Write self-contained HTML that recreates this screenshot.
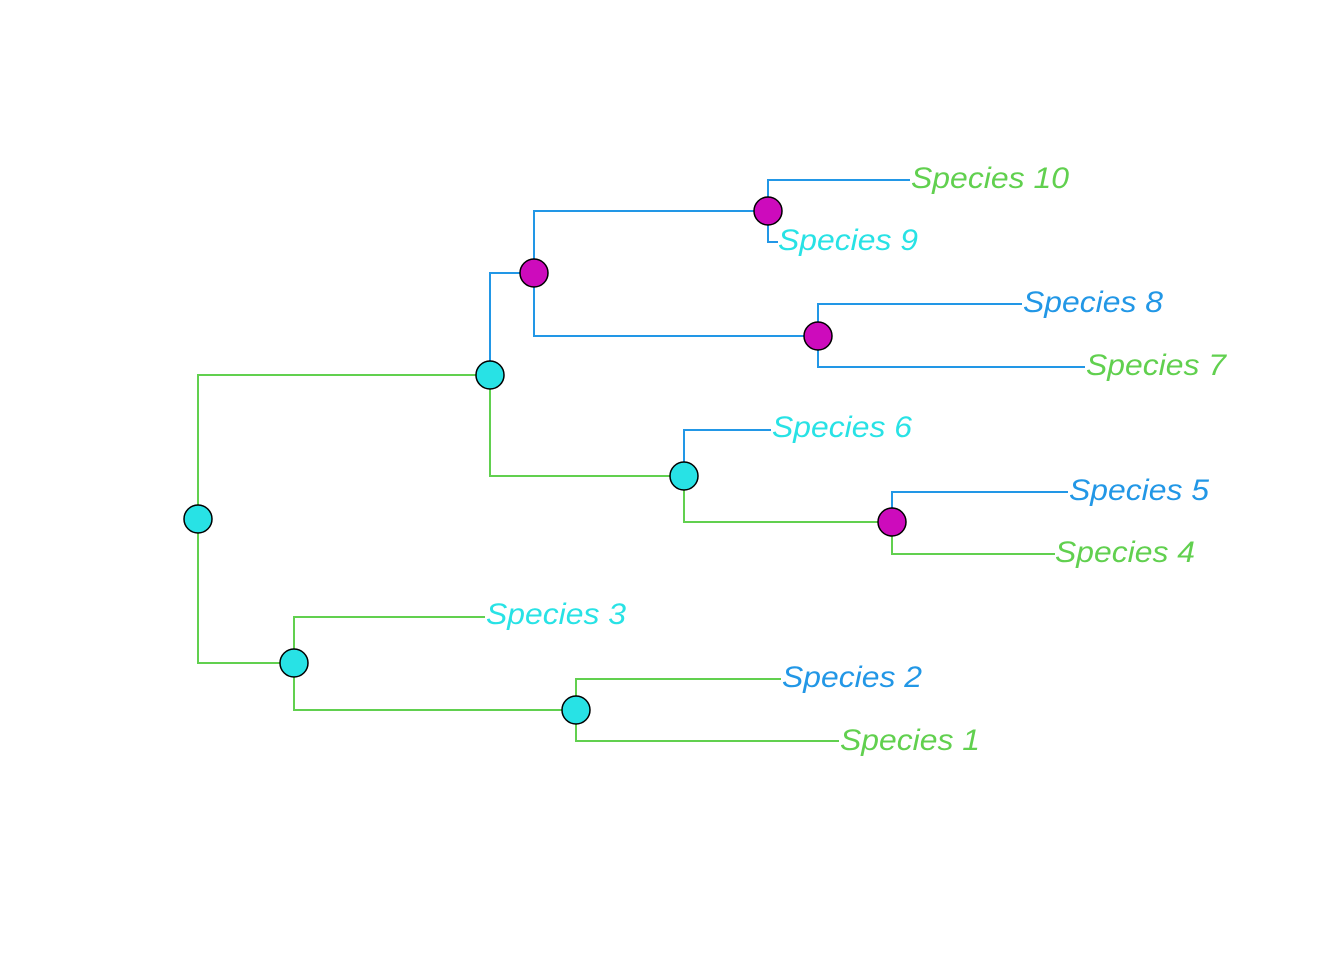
<!DOCTYPE html>
<html><head><style>html,body{margin:0;padding:0;background:#fff}</style></head>
<body>
<svg width="1344" height="960" xmlns="http://www.w3.org/2000/svg">
<g fill="none" stroke-width="2">
<g stroke="#61D04F">
<polyline points="490,375 198,375 198,663 294,663"/>
<polyline points="490,375 490,476 684,476"/>
<polyline points="684,476 684,522 892,522"/>
<polyline points="892,522 892,554 1055,554"/>
<polyline points="485,617 294,617 294,710 576,710"/>
<polyline points="781,679 576,679 576,741 839,741"/>
</g>
<g stroke="#2297E6">
<polyline points="490,375 490,273 534,273"/>
<polyline points="768,211 534,211 534,336 818,336"/>
<polyline points="910,180 768,180 768,242 778,242"/>
<polyline points="1022,304 818,304 818,367 1085,367"/>
<polyline points="771,430 684,430 684,476"/>
<polyline points="1068,492 892,492 892,522"/>
</g>
</g>
<g stroke="#000" stroke-width="1.5">
<circle cx="198" cy="519" r="14" fill="#28E2E5"/>
<circle cx="490" cy="375" r="14" fill="#28E2E5"/>
<circle cx="534" cy="273" r="14" fill="#CD0BBC"/>
<circle cx="768" cy="211" r="14" fill="#CD0BBC"/>
<circle cx="818" cy="336" r="14" fill="#CD0BBC"/>
<circle cx="684" cy="476" r="14" fill="#28E2E5"/>
<circle cx="892" cy="522" r="14" fill="#CD0BBC"/>
<circle cx="294" cy="663" r="14" fill="#28E2E5"/>
<circle cx="576" cy="710" r="14" fill="#28E2E5"/>
</g>
<g font-family="Liberation Sans, sans-serif" font-style="italic" font-size="30" lengthAdjust="spacingAndGlyphs">
<text x="911" y="188" fill="#61D04F" textLength="158" lengthAdjust="spacingAndGlyphs">Species 10</text>
<text x="778" y="250" fill="#28E2E5" textLength="140" lengthAdjust="spacingAndGlyphs">Species 9</text>
<text x="1023" y="312" fill="#2297E6" textLength="140" lengthAdjust="spacingAndGlyphs">Species 8</text>
<text x="1086" y="375" fill="#61D04F" textLength="140" lengthAdjust="spacingAndGlyphs">Species 7</text>
<text x="772" y="437" fill="#28E2E5" textLength="140" lengthAdjust="spacingAndGlyphs">Species 6</text>
<text x="1069" y="500" fill="#2297E6" textLength="140" lengthAdjust="spacingAndGlyphs">Species 5</text>
<text x="1055" y="562" fill="#61D04F" textLength="140" lengthAdjust="spacingAndGlyphs">Species 4</text>
<text x="486" y="624" fill="#28E2E5" textLength="140" lengthAdjust="spacingAndGlyphs">Species 3</text>
<text x="782" y="687" fill="#2297E6" textLength="140" lengthAdjust="spacingAndGlyphs">Species 2</text>
<text x="840" y="750" fill="#61D04F" textLength="140" lengthAdjust="spacingAndGlyphs">Species 1</text>
</g>
</svg>
</body></html>
